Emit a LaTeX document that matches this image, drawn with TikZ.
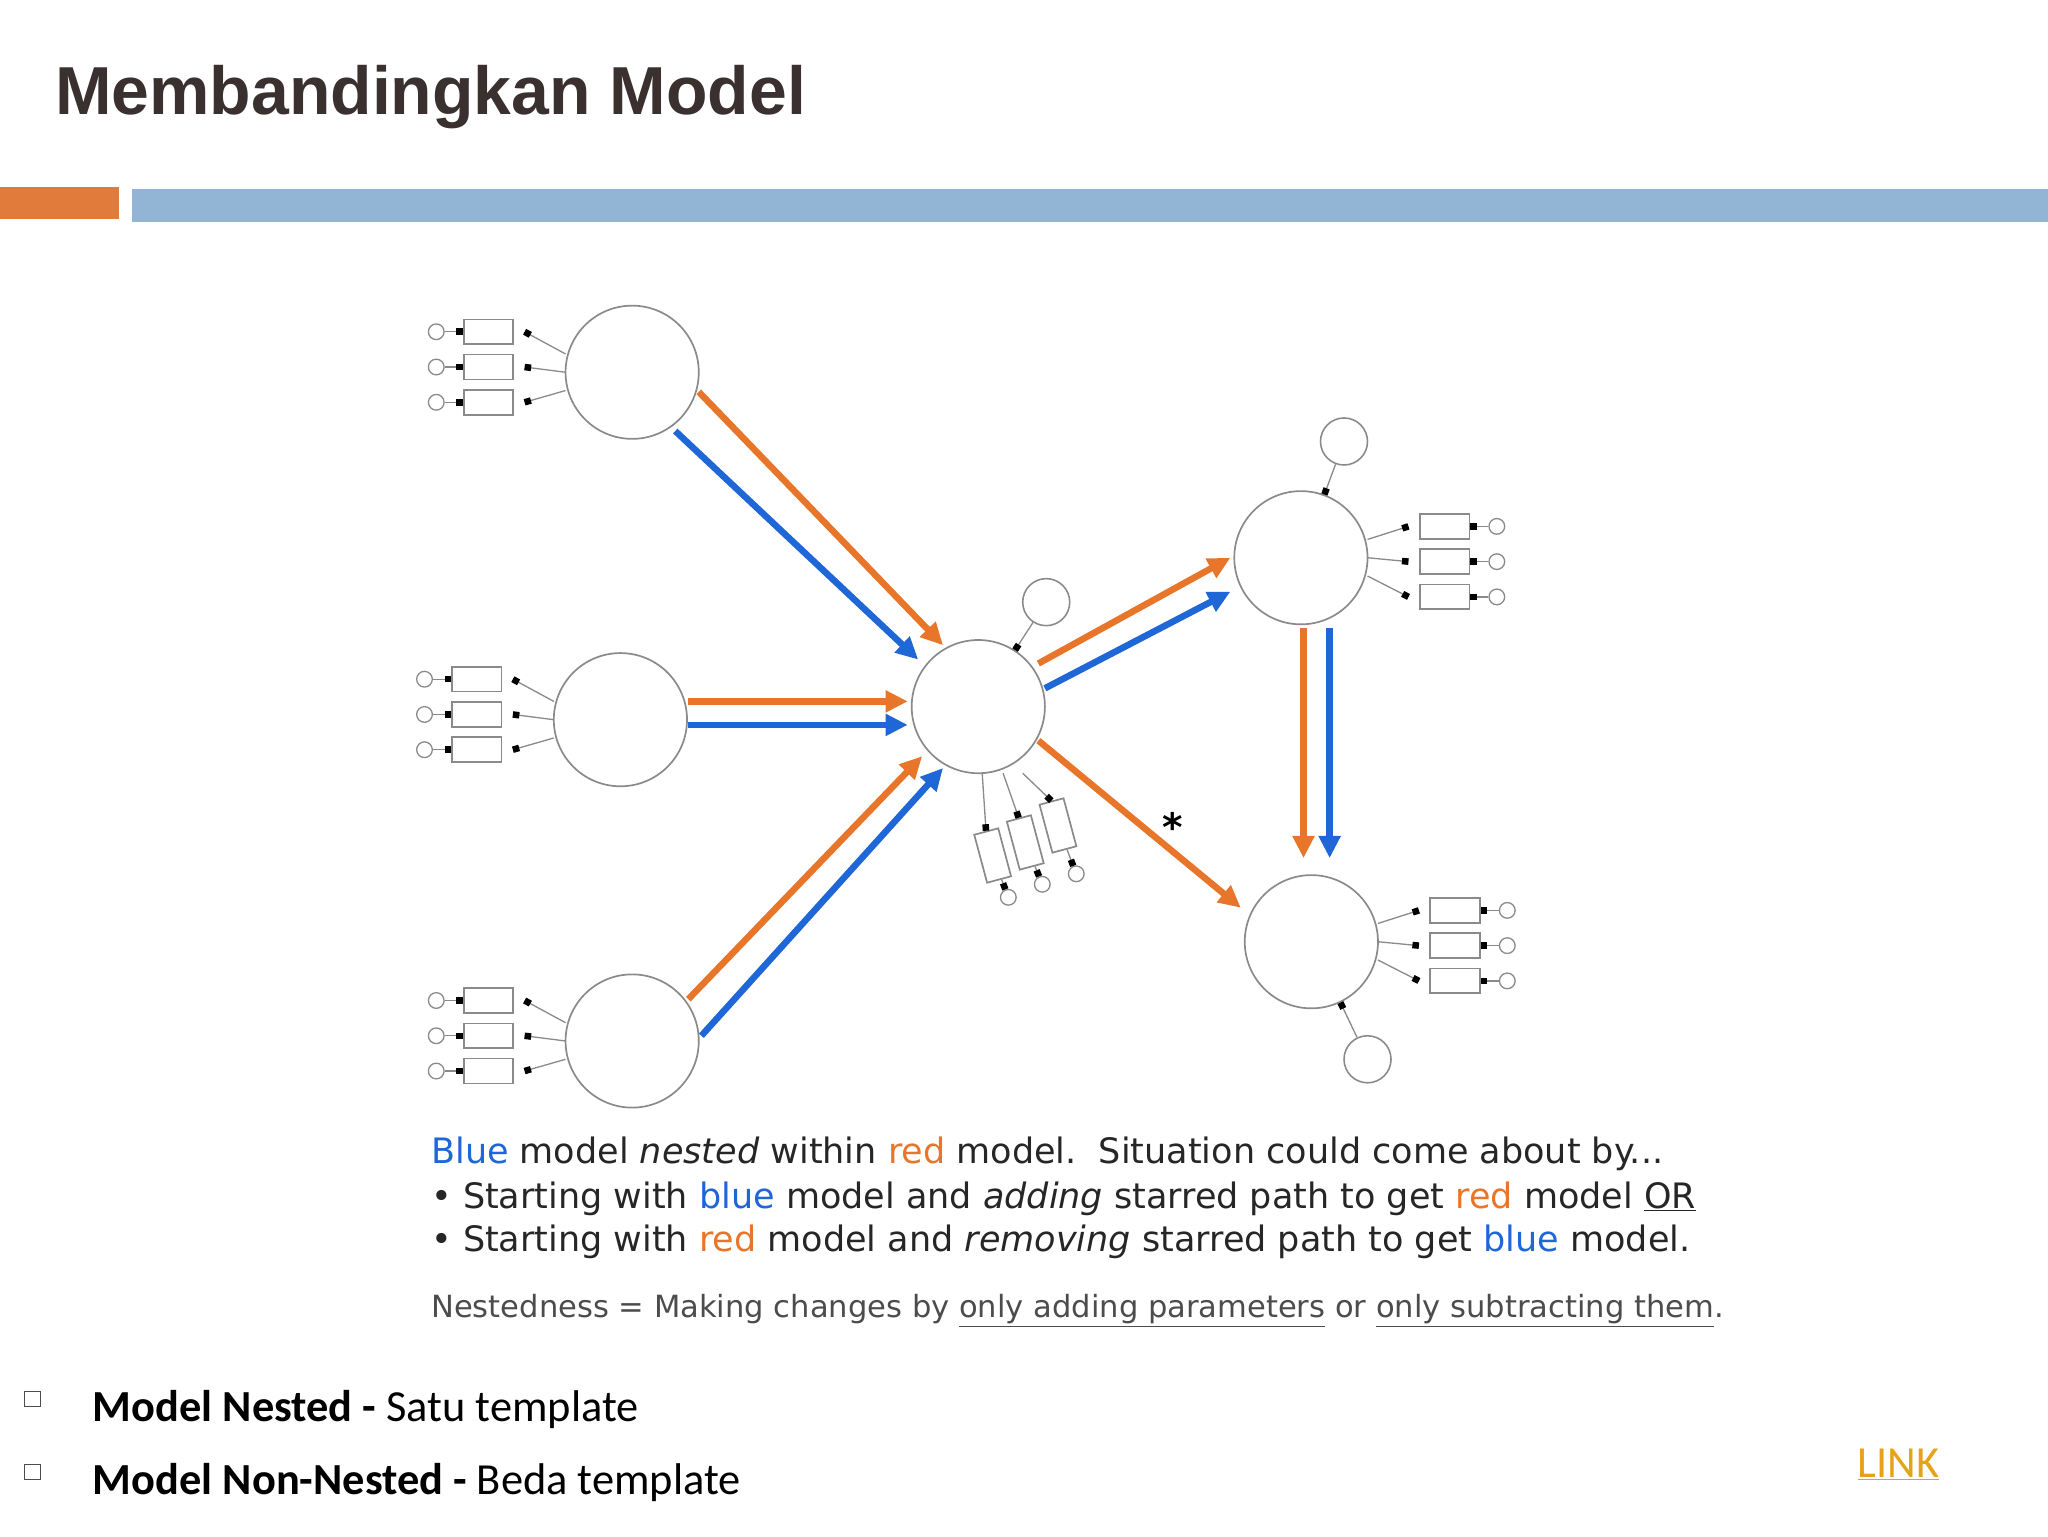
\documentclass[tikz,border=0pt]{standalone}
\usepackage{fontspec}
\setmainfont{DejaVu Sans}
\newfontfamily\titlefont{Liberation Sans}
\newfontfamily\calib{Carlito}
\usetikzlibrary{arrows.meta}
\definecolor{ttl}{HTML}{3A3030}
\definecolor{obar}{HTML}{E07B3C}
\definecolor{bbar}{HTML}{93B5D5}
\definecolor{orr}{HTML}{E8762A}
\definecolor{blu}{HTML}{1F66D6}
\definecolor{grl}{HTML}{8A8A8A}
\definecolor{lnk}{HTML}{E6A31A}
\tikzset{
 lat/.style={circle,draw=grl,line width=1.3,minimum size=102,inner sep=0},
 err/.style={circle,draw=grl,line width=1.2,minimum size=36,inner sep=0},
 sm/.style={circle,draw=grl,line width=1,minimum size=12,inner sep=0},
 ind/.style={rectangle,draw=grl,line width=1.3,minimum width=38,minimum height=19,inner sep=0},
 ia/.style={draw=grl,line width=1,-{Square[length=5,width=5,black]}},
 oa/.style={draw=orr,line width=5,-{Triangle[length=17,width=16]}},
 ba/.style={draw=blu,line width=5,-{Triangle[length=17,width=16]}},
}
\begin{document}
\begin{tikzpicture}[x=1pt,y=-1pt]
\useasboundingbox (0,0) rectangle (1568,1176);
\node[anchor=base west,inner sep=0,font=\titlefont\bfseries\fontsize{52}{60}\selectfont,text=ttl] (title) at (42,88) {Membandingkan Model};
\fill[obar] (0,143) rectangle (91,168);
\fill[bbar] (101,145) rectangle (1568,170);
% latent
\node[lat] (L1) at (484,285) {};
\node[lat] (L2) at (475,551) {};
\node[lat] (L3) at (484,797) {};
\node[lat] (C) at (749,541) {};
\node[lat] (R1) at (996,427) {};
\node[lat] (R2) at (1004,721) {};
\node[err] (eC) at (801,461) {};
\node[err] (e1) at (1029,338) {};
\node[err] (e2) at (1047,811) {};
\draw[ia] (eC) -- (C);
\draw[ia] (e1) -- (R1);
\draw[ia] (e2) -- (R2);
% left indicators
\foreach \L in {L1,L2,L3}{
 \foreach \k/\dy/\sy in {a/-31/-14,b/-4/0,c/23/14}{
  \node[ind] (\L\k) at ([shift={(-110,\dy)}]\L.center) {};
  \node[sm] (\L\k s) at ([shift={(-150,\dy)}]\L.center) {};
  \draw[ia] (\L\k s) -- (\L\k);
  \draw[ia] ([shift={(-51,\sy)}]\L.center) -- ([xshift=8]\L\k.east);
 }}
\foreach \L in {R1,R2}{
 \foreach \k/\dy/\sy in {a/-24/-14,b/3/0,c/30/14}{
  \node[ind] (\L\k) at ([shift={(110,\dy)}]\L.center) {};
  \node[sm] (\L\k s) at ([shift={(150,\dy)}]\L.center) {};
  \draw[ia] (\L\k s) -- (\L\k);
  \draw[ia] ([shift={(51,\sy)}]\L.center) -- ([xshift=-8]\L\k.west);
 }}
% C indicators (tilted)
\foreach \k/\bx/\by/\cx/\cy/\ax in {a/760/655/772/687/752,b/785/645/798/677/768,c/810/632/824/669/783}{
 \node[ind,minimum width=19,minimum height=38,rotate=15] (C\k) at (\bx,\by) {};
 \node[sm] (C\k s) at (\cx,\cy) {};
 \draw[ia] (C\k) -- (C\k s);
 \draw[ia] (\ax,592) -- (C\k.north);
}
% structural paths
\draw[oa] (535,300) -- (722,494);
\draw[ba] (517,330) -- (703,505);
\draw[oa] (527,537) -- (695,537);
\draw[ba] (527,555) -- (695,555);
\draw[oa] (527,765) -- (706,579);
\draw[ba] (537,793) -- (722,588);
\draw[oa] (795,508) -- (942,427);
\draw[ba] (800,527) -- (942,453);
\draw[oa] (998,481) -- (998,657);
\draw[ba] (1018,481) -- (1018,657);
\draw[oa] (795,567) -- (950,695);
\node[font=\bfseries\fontsize{30}{30}\selectfont] (star) at (898,633) {*};
% captions
\begin{scope}[every node/.style={anchor=base west,inner sep=0,font=\fontsize{26.8}{30}\selectfont,text=black!85}]
\node (t1) at (330,891) {\textcolor{blu}{Blue} model \textit{nested} within \textcolor{orr}{red} model.\ \ Situation could come about by...};
\node (t2) at (330,925) {• Starting with \textcolor{blu}{blue} model and \textit{adding} starred path to get \textcolor{orr}{red} model \underline{OR}};
\node (t3) at (330,958) {• Starting with \textcolor{orr}{red} model and \textit{removing} starred path to get \textcolor{blu}{blue} model.};
\node[font=\fontsize{23.4}{26}\selectfont,text=black!70] (t4) at (330,1009) {Nestedness = Making changes by \underline{only adding parameters} or \underline{only subtracting them}.};
\end{scope}
\node[draw=black!70,line width=0.8,minimum size=12,inner sep=0] (b1) at (25,1071) {};
\node[draw=black!70,line width=0.8,minimum size=12,inner sep=0] (b2) at (25,1127) {};
\node[anchor=base west,inner sep=0,font=\calib\fontsize{34}{38}\selectfont] (i1) at (71,1088) {\textbf{Model Nested -} Satu template};
\node[anchor=base west,inner sep=0,font=\calib\fontsize{34}{38}\selectfont] (i2) at (71,1144) {\textbf{Model Non-Nested -} Beda template};
\node[anchor=base west,inner sep=0,font=\calib\fontsize{34}{38}\selectfont,text=lnk] (link) at (1422,1131) {\underline{LINK}};
\end{tikzpicture}
\end{document}
